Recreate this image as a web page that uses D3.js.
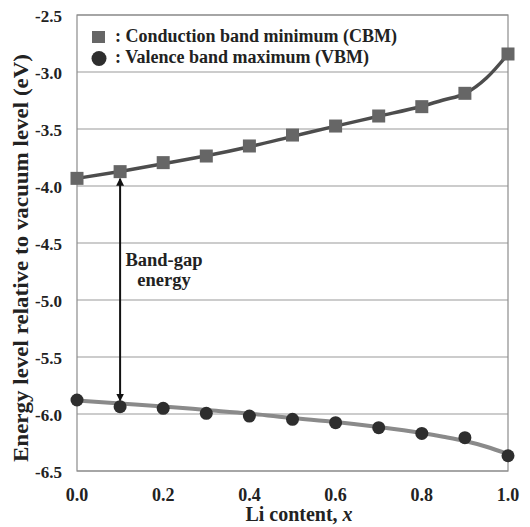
<!DOCTYPE html>
<html>
<head>
<meta charset="utf-8">
<script src="https://cdnjs.cloudflare.com/ajax/libs/d3/7.8.5/d3.min.js"></script>
<style>
  body { margin: 0; background: #fff; }
  text { font-family: "Liberation Serif", "Times New Roman", serif; font-weight: bold; }
</style>
</head>
<body>
<svg id="chart" width="530" height="527"></svg>
<script>
// Li content
const liContent = [0.0, 0.1, 0.2, 0.3, 0.4, 0.5, 0.6, 0.7, 0.8, 0.9, 1.0];
// conduction band minimum (eV)
const cbm = [-3.933, -3.874, -3.795, -3.737, -3.649, -3.553, -3.474, -3.386, -3.304, -3.187, -2.842];
// valence band maximum (eV)
const vbm = [-5.877, -5.936, -5.950, -5.994, -6.018, -6.047, -6.076, -6.120, -6.170, -6.208, -6.366];

// trend lines
const fitX = [0.0, 0.1, 0.2, 0.3, 0.4, 0.5, 0.6, 0.7, 0.8, 0.85, 0.9, 0.95, 1.0];
const cbmFit = [-3.933, -3.872, -3.805, -3.735, -3.655, -3.565, -3.475, -3.388, -3.300, -3.246, -3.190, -3.053, -2.842];
const vbmFit = [-5.882, -5.908, -5.934, -5.965, -5.996, -6.035, -6.070, -6.114, -6.167, -6.200, -6.237, -6.287, -6.351];

const xTicks = [0.0, 0.2, 0.4, 0.6, 0.8, 1.0];
const yTicks = [-2.5, -3.0, -3.5, -4.0, -4.5, -5.0, -5.5, -6.0, -6.5];
const legendItems = [': Conduction band minimum (CBM)', ': Valence band maximum (VBM)'];

const svg = d3.select('#chart');
const m = { left: 77, right: 508, top: 15, bottom: 471 };

const x = d3.scaleLinear().domain([0, 1]).range([m.left, m.right]);
const y = d3.scaleLinear().domain([-6.5, -2.5]).range([m.bottom, m.top]);
const fmt = d => d3.format('.1f')(d).replace('\u2212', '-');

// grid lines
svg.append('g')
  .selectAll('line')
  .data(yTicks)
  .join('line')
  .attr('x1', m.left).attr('x2', m.right)
  .attr('y1', d => y(d)).attr('y2', d => y(d))
  .attr('stroke', '#9a9a9a').attr('stroke-width', 1.2);

// plot frame
svg.append('rect')
  .attr('x', m.left).attr('y', m.top)
  .attr('width', m.right - m.left).attr('height', m.bottom - m.top)
  .attr('fill', 'none').attr('stroke', '#8c8c8c').attr('stroke-width', 1.2);

// y axis tick labels
svg.append('g')
  .selectAll('text')
  .data(yTicks)
  .join('text')
  .attr('x', 62)
  .attr('y', d => y(d) + 7)
  .attr('text-anchor', 'end')
  .style('font-size', '17px')
  .attr('fill', '#222')
  .text(fmt);

// x axis tick labels
svg.append('g')
  .selectAll('text')
  .data(xTicks)
  .join('text')
  .attr('x', d => x(d))
  .attr('y', 501)
  .attr('text-anchor', 'middle')
  .style('font-size', '18px')
  .attr('fill', '#222')
  .text(fmt);

// axis titles
const xTitle = svg.append('text')
  .attr('x', 299)
  .attr('y', 521)
  .attr('text-anchor', 'middle')
  .style('font-size', '20px')
  .attr('fill', '#222');
xTitle.append('tspan').text('Li content, ');
xTitle.append('tspan').style('font-style', 'italic').text('x');

svg.append('text')
  .attr('transform', `translate(28,258) rotate(-90)`)
  .attr('text-anchor', 'middle')
  .style('font-size', '20px')
  .attr('fill', '#222')
  .attr('textLength', 408)
  .attr('lengthAdjust', 'spacingAndGlyphs')
  .text('Energy  level relative to vacuum level (eV)');

// trend curves
const line = series => d3.line()
  .x((d, i) => x(fitX[i]))
  .y(d => y(d))
  .curve(d3.curveMonotoneX)(series);

svg.append('path').attr('d', line(vbmFit))
  .attr('fill', 'none').attr('stroke', '#8a8a8a').attr('stroke-width', 4);
svg.append('path').attr('d', line(cbmFit))
  .attr('fill', 'none').attr('stroke', '#4d4d4d').attr('stroke-width', 3.5);

// band-gap arrow
const defs = svg.append('defs');
defs.append('marker')
  .attr('id', 'arrowEnd')
  .attr('viewBox', '0 0 10 10')
  .attr('refX', 9).attr('refY', 5)
  .attr('markerWidth', 4).attr('markerHeight', 5)
  .attr('markerUnits', 'strokeWidth')
  .attr('orient', 'auto-start-reverse')
  .append('path').attr('d', 'M0,0 L10,5 L0,10 z').attr('fill', '#111');

svg.append('line')
  .attr('x1', x(0.1)).attr('x2', x(0.1))
  .attr('y1', y(cbm[1]) + 7).attr('y2', y(vbm[1]) - 6)
  .attr('stroke', '#111').attr('stroke-width', 2)
  .attr('marker-start', 'url(#arrowEnd)')
  .attr('marker-end', 'url(#arrowEnd)');

svg.append('text')
  .attr('x', 164).attr('y', 266)
  .attr('text-anchor', 'middle')
  .style('font-size', '18.5px').attr('fill', '#222')
  .text('Band-gap');
svg.append('text')
  .attr('x', 164).attr('y', 286)
  .attr('text-anchor', 'middle')
  .style('font-size', '18.5px').attr('fill', '#222')
  .text('energy');

// markers
svg.append('g')
  .selectAll('rect')
  .data(cbm)
  .join('rect')
  .attr('x', (d, i) => x(liContent[i]) - 6.5)
  .attr('y', d => y(d) - 6.5)
  .attr('width', 13).attr('height', 13)
  .attr('fill', '#666');

svg.append('g')
  .selectAll('circle')
  .data(vbm)
  .join('circle')
  .attr('cx', (d, i) => x(liContent[i]))
  .attr('cy', d => y(d))
  .attr('r', 6.5)
  .attr('fill', '#2e2e2e');

// legend
svg.append('rect')
  .attr('x', 92).attr('y', 31).attr('width', 13).attr('height', 12)
  .attr('fill', '#666');
svg.append('circle')
  .attr('cx', 99).attr('cy', 58.5).attr('r', 7.5)
  .attr('fill', '#2e2e2e');
svg.append('g')
  .selectAll('text')
  .data(legendItems)
  .join('text')
  .attr('x', 115)
  .attr('y', (d, i) => 42 + i * 21)
  .style('font-size', '18px')
  .attr('fill', '#222')
  .text(d => d);
</script>
</body>
</html>
